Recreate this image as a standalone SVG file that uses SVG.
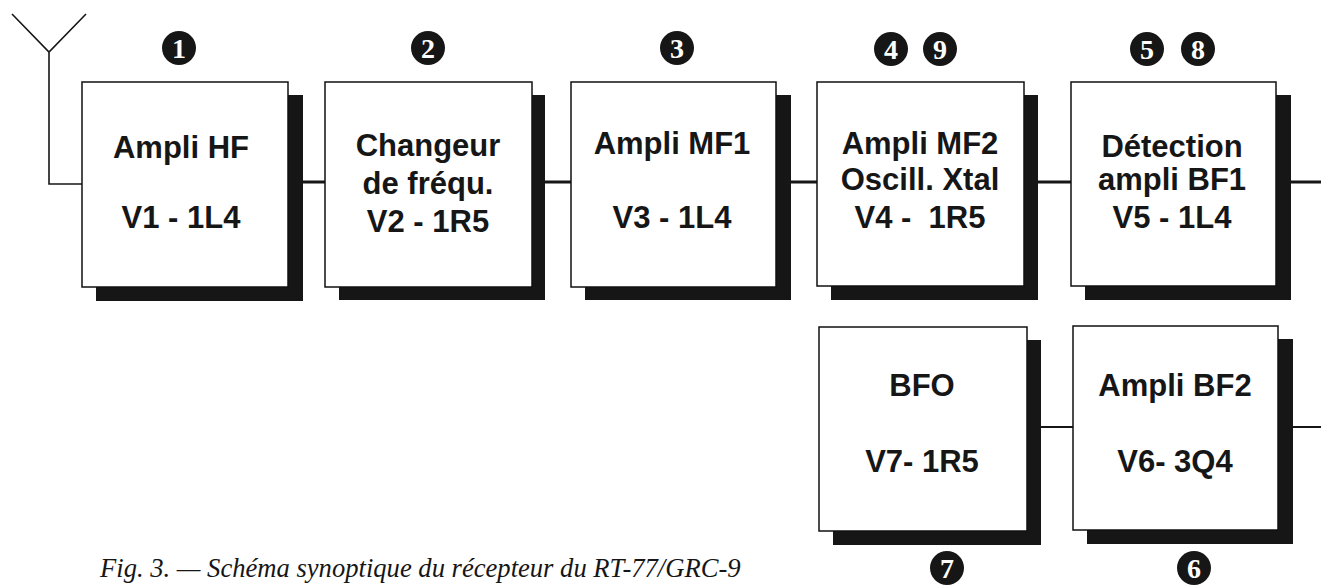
<svg xmlns="http://www.w3.org/2000/svg" width="1321" height="585" viewBox="0 0 1321 585">
<style>
.box{fill:#fff;stroke:#111;stroke-width:1.5}
.sh{fill:#161616}
.t{font-family:"Liberation Sans",Arial,sans-serif;font-weight:bold;font-size:31px;fill:#161616;text-anchor:middle}
.w{stroke:#161616;fill:none}
.c{fill:#161616}
.n{font-family:"Liberation Serif","Times New Roman",serif;font-weight:bold;font-size:28px;fill:#fff;text-anchor:middle}
.cap{font-family:"Liberation Serif","Times New Roman",serif;font-style:italic;font-size:26.6px;fill:#161616}
</style>
<rect width="1321" height="585" fill="#fff"/>
<g id="connectors">
<path class="w" stroke-width="1.6" d="M12,14 L49,52 L86,14 M49,52 L49,184 L82,184"/>
<path class="w" stroke-width="3" d="M302,182 H326 M545,182 H572 M791,182 H818 M1038,182 H1072 M1291,182 H1321"/>
<path class="w" stroke-width="2.2" d="M1041,427 H1074 M1293,427 H1321"/>
</g>
<g id="node1">
<rect class="sh" x="96" y="95" width="207" height="206"/>
<rect class="box" x="82" y="82" width="206" height="205"/>
<text class="t" x="181" y="158">Ampli HF</text>
<text class="t" x="181" y="228">V1 - 1L4</text>
</g>
<g id="node2">
<rect class="sh" x="339" y="95" width="206" height="205"/>
<rect class="box" x="325" y="82" width="207" height="205"/>
<text class="t" x="428" y="156">Changeur</text>
<text class="t" x="428" y="194">de fréqu.</text>
<text class="t" x="428" y="232">V2 - 1R5</text>
</g>
<g id="node3">
<rect class="sh" x="585" y="95" width="206" height="205"/>
<rect class="box" x="571" y="82" width="205" height="205"/>
<text class="t" x="672" y="154">Ampli MF1</text>
<text class="t" x="672" y="228">V3 - 1L4</text>
</g>
<g id="node4">
<rect class="sh" x="831" y="95" width="207" height="205"/>
<rect class="box" x="817" y="82" width="207" height="204"/>
<text class="t" x="920" y="154">Ampli MF2</text>
<text class="t" x="920" y="190">Oscill. Xtal</text>
<text class="t" x="920" y="228" xml:space="preserve">V4 -  1R5</text>
</g>
<g id="node5">
<rect class="sh" x="1085" y="95" width="206" height="205"/>
<rect class="box" x="1071" y="82" width="205" height="204"/>
<text class="t" x="1172" y="157">Détection</text>
<text class="t" x="1172" y="190">ampli BF1</text>
<text class="t" x="1172" y="228">V5 - 1L4</text>
</g>
<g id="node7">
<rect class="sh" x="833" y="340" width="208" height="205"/>
<rect class="box" x="819" y="327" width="208" height="204"/>
<text class="t" x="922" y="396">BFO</text>
<text class="t" x="922" y="472">V7- 1R5</text>
</g>
<g id="node6">
<rect class="sh" x="1087" y="339" width="206" height="205"/>
<rect class="box" x="1073" y="326" width="205" height="204"/>
<text class="t" x="1175" y="396">Ampli BF2</text>
<text class="t" x="1175" y="472">V6- 3Q4</text>
</g>
<g id="numbers">
<circle class="c" cx="179" cy="48" r="17"/><text class="n" x="179" y="58">1</text>
<circle class="c" cx="428" cy="48" r="17"/><text class="n" x="428" y="58">2</text>
<circle class="c" cx="677" cy="48" r="17"/><text class="n" x="677" y="58">3</text>
<circle class="c" cx="891" cy="49" r="17"/><text class="n" x="891" y="59">4</text>
<circle class="c" cx="940" cy="49" r="17"/><text class="n" x="940" y="59">9</text>
<circle class="c" cx="1147" cy="49" r="17"/><text class="n" x="1147" y="59">5</text>
<circle class="c" cx="1198" cy="49" r="17"/><text class="n" x="1198" y="59">8</text>
<circle class="c" cx="947" cy="568" r="17"/><text class="n" x="947" y="578">7</text>
<circle class="c" cx="1194" cy="568" r="17"/><text class="n" x="1194" y="578">6</text>
</g>
<text class="cap" x="100" y="577">Fig. 3. — Schéma synoptique du récepteur du RT-77/GRC-9</text>
</svg>
